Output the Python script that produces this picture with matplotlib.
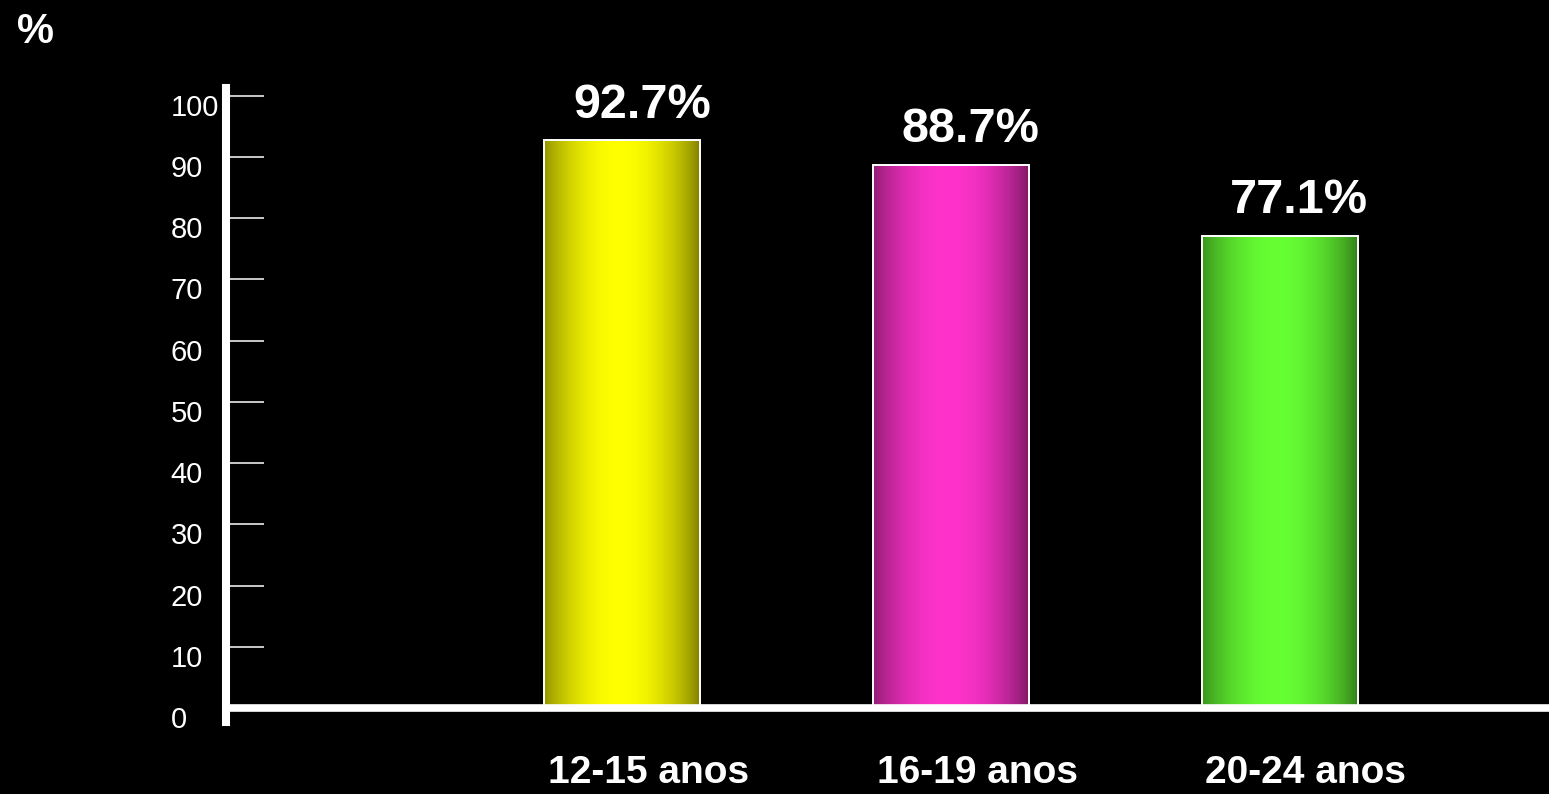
import numpy as np
import matplotlib.pyplot as plt
from matplotlib.transforms import ScaledTranslation

faixas = ["12-15 anos", "16-19 anos", "20-24 anos"]
valores = [92.7, 88.7, 77.1]
rotulos = ["92.7%", "88.7%", "77.1%"]
cores_claras = [(1.0, 1.0, 0.0), (1.0, 0.2, 0.8), (0.4, 1.0, 0.2)]
yticks = [0, 10, 20, 30, 40, 50, 60, 70, 80, 90, 100]

plt.rcParams['font.family'] = ['Liberation Sans', 'DejaVu Sans']

fig = plt.figure(figsize=(15.49, 7.94), dpi=100, facecolor='black')
ax = fig.add_axes([233/1549, 86/794, 1 - 233/1549, 0.7713])
ax.set_facecolor('black')

x = np.arange(len(faixas))
largura = 0.475
barras = ax.bar(x, valores, largura, facecolor='none', edgecolor='white',
                linewidth=1.4, zorder=3)

# degrade horizontal: escuro nas bordas, claro no meio
t = np.linspace(0, 1, 200)
brilho = 0.47 + 0.53 * np.clip(np.cos((t - 0.48) / 0.52 * np.pi / 2), 0, 1) ** 0.75
for b, cor in zip(barras, cores_claras):
    grad = np.array(cor)[None, None, :] * brilho[None, :, None]
    x0 = b.get_x()
    ax.imshow(grad, extent=(x0, x0 + b.get_width(), 0, b.get_height()),
              aspect='auto', zorder=2, interpolation='bilinear')

for xi, v, r in zip(x, valores, rotulos):
    ax.annotate(r, (xi, v), xytext=(14, 9), textcoords='offset points',
                ha='center', va='bottom', color='white', fontsize=35,
                fontweight='bold')

ax.set_xlim(-1.1845, 2.8185)
ax.set_ylim(0, 100)

for s in ['top', 'right']:
    ax.spines[s].set_visible(False)
ax.spines['bottom'].set_color('white')
ax.spines['bottom'].set_linewidth(5.5)
ax.spines['left'].set_color('white')
ax.spines['left'].set_linewidth(5.8)
ax.spines['left'].set_position(('outward', 5))
ax.spines['left'].set_bounds(-2.3, 101.3)

ax.set_yticks(yticks)
ax.set_yticklabels([str(v) for v in yticks])
ax.tick_params(axis='y', direction='in', length=27, width=1.1, color='white',
               labelcolor='white', labelsize=21, pad=40)
ax.yaxis.get_major_ticks()[0].tick1line.set_visible(False)
desloc = ScaledTranslation(0, -9/100, fig.dpi_scale_trans)
for lab in ax.get_yticklabels():
    lab.set_horizontalalignment('left')
    lab.set_transform(lab.get_transform() + desloc)

ax.set_xticks(x)
ax.set_xticklabels(faixas, fontsize=28, fontweight='bold', color='white')
ax.tick_params(axis='x', length=0, pad=34)
desloc_x = ScaledTranslation(26/100, 0, fig.dpi_scale_trans)
for lab in ax.get_xticklabels():
    lab.set_transform(lab.get_transform() + desloc_x)

fig.text(35/1549, 1 - 32/794, "%", color='white', fontsize=30,
         fontweight='bold', ha='center', va='center')

fig.savefig("out.png", dpi=100, facecolor='black')
